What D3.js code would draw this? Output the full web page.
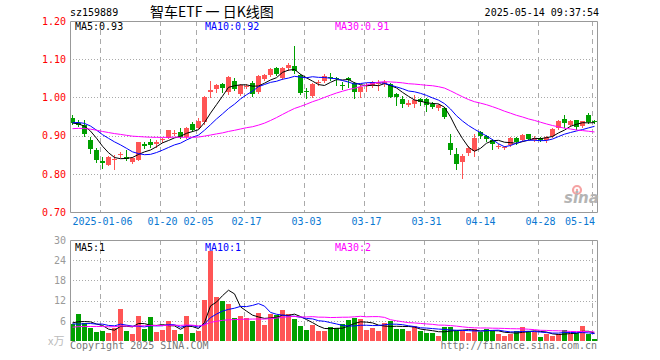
<!DOCTYPE html>
<html><head><meta charset="utf-8">
<script src="https://cdn.jsdelivr.net/npm/d3@7"></script>
<style>
body{margin:0;background:#fff}
svg{display:block}
text{font-family:"DejaVu Sans Mono",monospace;font-size:10px}
</style>
</head><body>
<svg id="c" width="660" height="360"></svg>
<script>
// ---- data ----
const code = "sz159889";
const title = "智车ETF 一 日K线图";
const stamp = "2025-05-14 09:37:54";
const dates = ["2024-12-27","2024-12-30","2024-12-31","2025-01-02","2025-01-03","2025-01-06","2025-01-07","2025-01-08","2025-01-09","2025-01-10",
"2025-01-13","2025-01-14","2025-01-15","2025-01-16","2025-01-17","2025-01-20","2025-01-21","2025-01-22","2025-01-23","2025-01-24",
"2025-01-27","2025-02-05","2025-02-06","2025-02-07","2025-02-10","2025-02-11","2025-02-12","2025-02-13","2025-02-14","2025-02-17",
"2025-02-18","2025-02-19","2025-02-20","2025-02-21","2025-02-24","2025-02-25","2025-02-26","2025-02-27","2025-02-28","2025-03-03",
"2025-03-04","2025-03-05","2025-03-06","2025-03-07","2025-03-10","2025-03-11","2025-03-12","2025-03-13","2025-03-14","2025-03-17",
"2025-03-18","2025-03-19","2025-03-20","2025-03-21","2025-03-24","2025-03-25","2025-03-26","2025-03-27","2025-03-28","2025-03-31",
"2025-04-01","2025-04-02","2025-04-03","2025-04-07","2025-04-08","2025-04-09","2025-04-10","2025-04-11","2025-04-14","2025-04-15",
"2025-04-16","2025-04-17","2025-04-18","2025-04-21","2025-04-22","2025-04-23","2025-04-24","2025-04-25","2025-04-28","2025-04-29",
"2025-04-30","2025-05-06","2025-05-07","2025-05-08","2025-05-09","2025-05-12","2025-05-13","2025-05-14"];
const open = [0.945,0.934,0.927,0.889,0.863,0.833,0.824,0.838,0.849,0.844,
0.830,0.837,0.877,0.884,0.877,0.890,0.895,0.903,0.909,0.896,
0.930,0.921,0.935,1.015,1.022,1.035,1.015,1.043,1.008,1.029,
1.039,1.013,1.048,1.059,1.076,1.050,1.076,1.082,1.059,1.016,
1.004,1.038,1.044,1.053,1.051,1.033,1.050,1.037,1.013,1.031,
1.031,1.036,1.035,1.035,1.009,0.996,0.979,0.982,0.996,0.996,
0.984,0.971,0.972,0.881,0.851,0.831,0.855,0.859,0.910,0.899,
0.889,0.872,0.869,0.876,0.895,0.888,0.904,0.889,0.895,0.888,
0.899,0.921,0.943,0.927,0.940,0.925,0.955,0.939];
const high = [0.953,0.940,0.940,0.896,0.868,0.844,0.846,0.850,0.856,0.863,
0.843,0.884,0.884,0.891,0.888,0.895,0.915,0.914,0.919,0.923,
0.935,0.945,1.003,1.043,1.034,1.037,1.056,1.050,1.036,1.036,
1.042,1.058,1.062,1.076,1.079,1.080,1.089,1.135,1.061,1.024,
1.037,1.045,1.062,1.063,1.054,1.041,1.054,1.041,1.032,1.037,
1.044,1.046,1.045,1.037,1.011,1.004,0.993,1.006,0.998,0.998,
0.987,0.984,0.974,0.904,0.868,0.853,0.874,0.904,0.912,0.901,
0.892,0.877,0.874,0.896,0.897,0.905,0.905,0.899,0.897,0.899,
0.919,0.940,0.954,0.940,0.942,0.938,0.960,0.940];
const low = [0.930,0.924,0.900,0.855,0.832,0.815,0.822,0.813,0.845,0.835,
0.828,0.835,0.868,0.870,0.871,0.884,0.894,0.902,0.893,0.894,
0.911,0.919,0.930,1.002,1.013,1.015,1.010,1.019,1.006,1.024,
1.004,1.011,1.045,1.056,1.058,1.048,1.073,1.065,1.008,0.999,
1.002,1.033,1.041,1.046,1.032,1.022,1.028,0.999,1.002,1.017,
1.028,1.019,1.029,1.000,0.980,0.975,0.978,0.976,0.980,0.965,
0.971,0.968,0.945,0.853,0.813,0.789,0.850,0.846,0.895,0.885,
0.866,0.868,0.866,0.872,0.878,0.885,0.890,0.886,0.885,0.882,
0.896,0.918,0.923,0.925,0.917,0.923,0.933,0.934];
const close = [0.933,0.929,0.903,0.866,0.835,0.828,0.844,0.840,0.851,0.838,
0.841,0.883,0.874,0.875,0.882,0.891,0.914,0.908,0.896,0.921,
0.914,0.938,1.002,1.019,1.032,1.025,1.054,1.022,1.032,1.031,
1.008,1.056,1.059,1.074,1.061,1.078,1.085,1.068,1.011,1.014,
1.035,1.040,1.056,1.052,1.049,1.031,1.046,1.013,1.028,1.033,
1.041,1.038,1.041,1.002,1.002,0.983,0.986,0.993,0.987,0.980,
0.975,0.980,0.949,0.861,0.825,0.846,0.868,0.895,0.899,0.892,
0.879,0.873,0.870,0.894,0.883,0.901,0.892,0.895,0.888,0.897,
0.917,0.938,0.932,0.938,0.923,0.938,0.936,0.935];
const volume = [5.0,8.1,5.3,4.0,2.8,3.0,2.5,3.8,9.6,3.0,
2.1,7.5,3.6,7.2,2.7,3.3,6.0,3.3,2.1,7.5,
2.5,3.0,12.3,26.8,13.2,12.0,11.1,6.9,7.5,6.9,
6.0,8.4,4.8,8.1,7.8,9.3,8.1,6.6,4.5,3.3,
4.8,3.0,3.0,4.2,3.8,5.0,6.3,6.8,6.6,3.3,
3.9,3.0,5.4,6.0,3.6,3.6,3.0,4.5,3.0,2.4,
2.4,1.5,4.3,4.3,3.0,3.0,2.4,3.6,2.8,3.6,
3.0,2.1,1.5,2.1,3.0,4.2,3.0,2.8,1.2,2.1,
1.5,2.1,3.3,2.1,2.4,4.5,2.1,0.6];
// sessions before the first visible candle (estimated so the moving averages start where the reference shows them)
const priorClose = [0.905,0.912,0.920,0.918,0.925,0.930,0.922,0.915,0.910,0.908,0.912,0.905,
0.898,0.892,0.895,0.903,0.900,0.908,0.912,0.918,0.922,
0.928,0.935,0.942,0.946,0.940,0.933,0.930,0.928];
const priorVolume = [3.2,4.1,3.5,2.8,3.9,4.4,3.0,3.6,3.3,4.8,3.1,2.9,3.7,4.2,3.4,3.8,2.6,3.5,4.0,4.2,
9.0,4.0,3.5,4.5,3.0,6.5,5.0,4.5,6.0];
const maPeriods = [5,10,30];
const priceMaLabels = ["MA5:0.93","MA10:0.92","MA30:0.91"];
const volMaLabels = ["MA5:1","MA10:1","MA30:2"];
const priceTicks = [0.70,0.80,0.90,1.00,1.10,1.20];
const volTicks = [6,12,18,24,30];
const tickDates = ["2025-01-06","2025-01-20","2025-02-05","2025-02-17","2025-03-03","2025-03-17","2025-03-31","2025-04-14","2025-04-28","2025-05-14"];
const tickLabels = ["2025-01-06","01-20","02-05","02-17","03-03","03-17","03-31","04-14","04-28","05-14"];

// ---- layout / style ----
const X0=70, X1=597, PT=21, PB=212, VT=240, VB=341;
const UP="#ff5555", DOWN="#00a000", GRID="#aaaaaa", FRAME="#999999";
const maColors=["#000000","#0000ff","#ff00ff"];

const svg=d3.select("#c");
const x=d3.scaleBand().domain(dates).range([X0,X1]).paddingInner(1/6).paddingOuter(0);
const bw=x.bandwidth();
const cx=d=>x(d)+bw/2;
const y=d3.scaleLinear().domain([0.70,1.20]).range([PB,PT]);
const yv=d3.scaleLinear().domain([0,30]).range([VB,VT]);
const rows=dates.map((d,i)=>({d,o:open[i],h:high[i],l:low[i],c:close[i],v:volume[i],up:close[i]>=open[i]}));

function ma(vals,prior,n){
  const all=prior.concat(vals);
  return vals.map((_,i)=>d3.mean(all.slice(prior.length+i-n+1,prior.length+i+1)));
}

// header
svg.append("text").attr("x",70).attr("y",16).text(code);
svg.append("text").attr("x",150).attr("y",17).style("font-family","'Noto Sans CJK SC',sans-serif").style("font-size","14px").text(title);
svg.append("text").attr("x",599).attr("y",16).attr("text-anchor","end").text(stamp);

function panel(top,bottom,yScale,ticks,labelColor,fmt){
  const g=svg.append("g");
  // horizontal dotted grid
  g.selectAll("line.h").data(ticks.filter(t=>yScale(t)>top+1&&yScale(t)<bottom-1)).join("line")
    .attr("x1",X0).attr("x2",X1).attr("y1",t=>Math.round(yScale(t))+0.5).attr("y2",t=>Math.round(yScale(t))+0.5)
    .attr("stroke",GRID).attr("stroke-dasharray","1,2");
  // vertical dashed grid
  g.selectAll("line.v").data(tickDates).join("line")
    .attr("x1",d=>x(d)+0.5).attr("x2",d=>x(d)+0.5).attr("y1",top).attr("y2",bottom)
    .attr("stroke",GRID).attr("stroke-dasharray","5,4");
  // axis labels
  const ax=svg.append("g").attr("transform",`translate(${X0},0)`)
    .call(d3.axisLeft(yScale).tickValues(ticks).tickSize(0).tickPadding(4).tickFormat(fmt));
  ax.select(".domain").remove();
  ax.selectAll("text").attr("fill",labelColor).style("font-family","'DejaVu Sans Mono',monospace").style("font-size","10px");
  return g;
}
panel(PT,PB,y,priceTicks,"#ff0000",d3.format(".2f"));
panel(VT,VB,yv,volTicks,"#9a9a9a",d3.format("d"));

// candles
const cg=svg.append("g");
cg.selectAll("line").data(rows).join("line")
  .attr("x1",r=>cx(r.d)).attr("x2",r=>cx(r.d))
  .attr("y1",r=>Math.round(y(r.h))).attr("y2",r=>Math.round(y(r.l))+1)
  .attr("stroke",r=>r.up?UP:DOWN);
cg.selectAll("rect").data(rows).join("rect")
  .attr("x",r=>x(r.d)).attr("width",bw)
  .attr("y",r=>Math.round(y(Math.max(r.o,r.c))))
  .attr("height",r=>Math.max(1,Math.round(y(Math.min(r.o,r.c)))-Math.round(y(Math.max(r.o,r.c)))))
  .attr("fill",r=>r.up?UP:DOWN);

// volume bars
svg.append("g").selectAll("rect").data(rows).join("rect")
  .attr("x",r=>x(r.d)).attr("width",bw)
  .attr("y",r=>Math.round(yv(r.v))).attr("height",r=>VB-Math.round(yv(r.v)))
  .attr("fill",r=>r.up?UP:DOWN);

// moving averages
svg.append("defs").html(`<clipPath id="cp"><rect x="${X0}" y="${PT}" width="${X1-X0}" height="${PB-PT}"/></clipPath><clipPath id="cv"><rect x="${X0}" y="${VT}" width="${X1-X0}" height="${VB-VT}"/></clipPath>`);
maPeriods.forEach((n,k)=>{
  const mp=ma(close,priorClose,n);
  svg.append("path").attr("clip-path","url(#cp)")
    .attr("d",d3.line().x((_,i)=>cx(dates[i])).y(v=>y(v))(mp))
    .attr("fill","none").attr("stroke",maColors[k]).attr("stroke-width",1);
  const mv=ma(volume,priorVolume,n);
  svg.append("path").attr("clip-path","url(#cv)")
    .attr("d",d3.line().x((_,i)=>cx(dates[i])).y(v=>yv(v))(mv))
    .attr("fill","none").attr("stroke",maColors[k]).attr("stroke-width",1);
});

// frames
svg.append("path").attr("d",`M${X0+0.5},${PT+0.5}H${X1+0.5}V${PB+0.5}H${X0+0.5}Z`).attr("fill","none").attr("stroke",FRAME);
svg.append("path").attr("d",`M${X0+0.5},${VB}V${VT+0.5}H${X1+0.5}V${VB}`).attr("fill","none").attr("stroke",FRAME);

// MA legends
const legX=[75,205,335];
priceMaLabels.forEach((t,k)=>svg.append("text").attr("x",legX[k]).attr("y",30).attr("fill",maColors[k]).text(t));
volMaLabels.forEach((t,k)=>svg.append("text").attr("x",legX[k]).attr("y",251).attr("fill",maColors[k]).text(t));

// date axis
const xa=svg.append("g").attr("transform",`translate(0,${PB})`)
  .call(d3.axisBottom(x).tickValues(tickDates).tickSize(0).tickPadding(6).tickFormat((d,i)=>tickLabels[i]));
xa.select(".domain").remove();
xa.selectAll("text").attr("fill","#0a78d2").style("font-family","'DejaVu Sans Mono',monospace").style("font-size","10px");
xa.selectAll(".tick").each(function(){
  const t=d3.select(this).select("text").node();
  const b=t.getBBox();
  const tr=this.transform.baseVal.consolidate().matrix;
  const right=tr.e+b.x+b.width, left=tr.e+b.x;
  if(right>595) d3.select(t).attr("x",595-right);
  if(left<X0) d3.select(t).attr("x",X0-left);
});

// watermark
const wm=svg.append("g");
wm.append("circle").attr("cx",577).attr("cy",190).attr("r",4).attr("fill","none").attr("stroke","#f5a3a3").attr("stroke-width",2.2);
wm.append("circle").attr("cx",577).attr("cy",190).attr("r",1.2).attr("fill","#f5a3a3");
wm.append("text").attr("x",564).attr("y",203).style("font-family","'DejaVu Sans',sans-serif").style("font-size","15px").style("font-weight","bold").style("font-style","italic").attr("fill","#b4b4b4").text("sina");

// footer
svg.append("text").attr("x",48).attr("y",345).style("font-family","'Noto Sans CJK SC',sans-serif").style("font-size","11px").attr("fill","#bbbbbb").text("x万");
svg.append("text").attr("x",70).attr("y",349).attr("fill","#777777").text("Copyright 2025 SINA.COM");
svg.append("text").attr("x",X1).attr("y",349).attr("text-anchor","end").attr("fill","#777777").text("http://finance.sina.com.cn");
</script>
</body></html>
